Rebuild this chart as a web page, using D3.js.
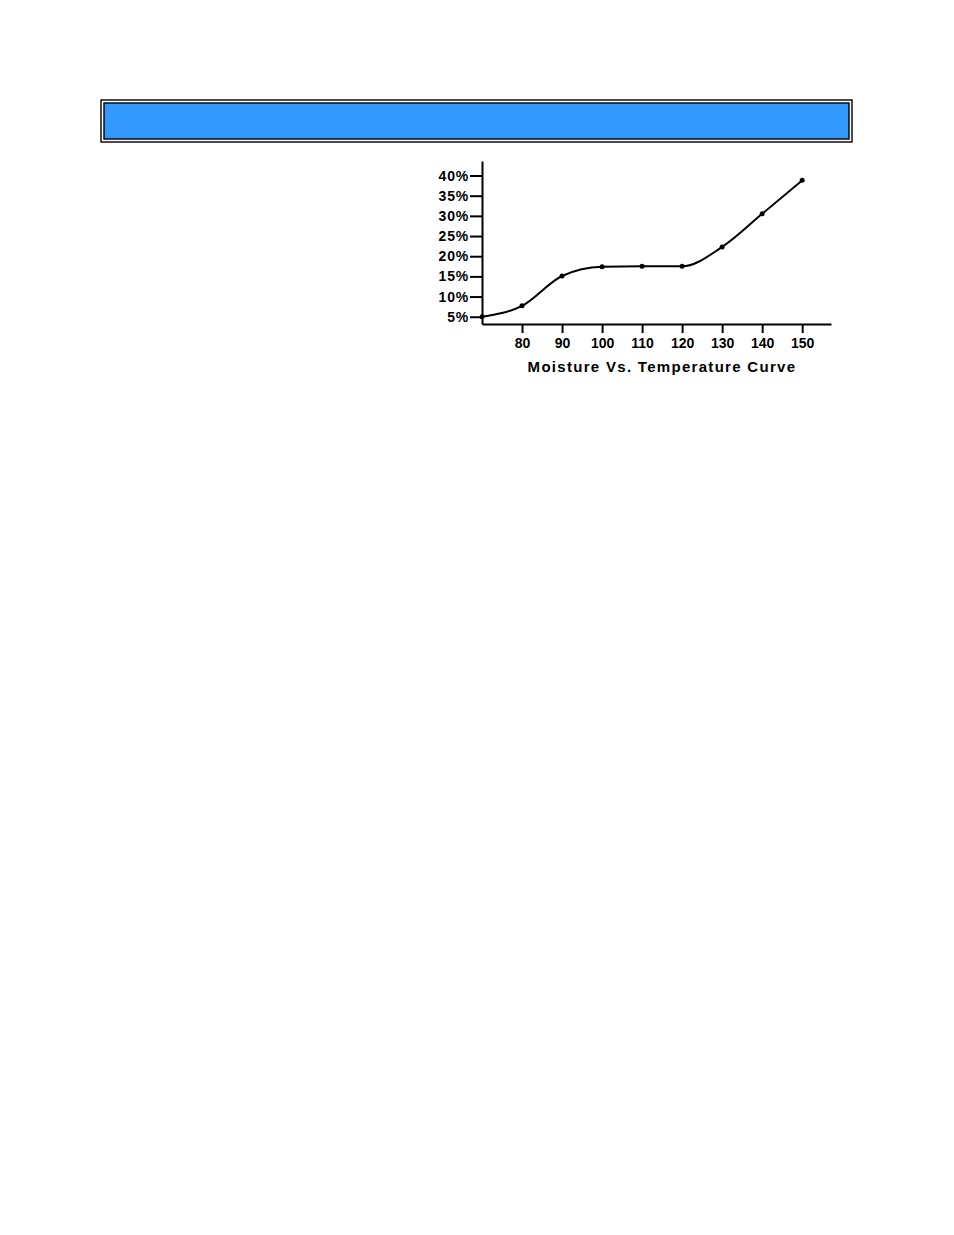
<!DOCTYPE html>
<html>
<head>
<meta charset="utf-8">
<script src="https://cdn.jsdelivr.net/npm/d3@7"></script>
<style>
  body { margin: 0; background: #fff; }
  text { font-family: "Liberation Sans", Arial, sans-serif; font-weight: bold; fill: #000; }
</style>
</head>
<body>
<div id="chart-holder"></div>
<script>
// temperature (x) and moisture % (y)
const temps = [70, 80, 90, 100, 110, 120, 130, 140, 150];
const moisture = [5, 7.7, 15.1, 17.4, 17.5, 17.5, 22.3, 30.5, 38.8];
const xTicks = [80, 90, 100, 110, 120, 130, 140, 150];
const yTicks = [5, 10, 15, 20, 25, 30, 35, 40];
const chartTitle = 'Moisture Vs. Temperature Curve';

const width = 954;
const height = 1235;

const svg = d3.select('#chart-holder')
    .append('svg')
    .attr('width', width)
    .attr('height', height);

// blue banner with double border
svg.append('rect')
    .attr('x', 101).attr('y', 100)
    .attr('width', 751).attr('height', 42)
    .attr('fill', 'none')
    .attr('stroke', '#000')
    .attr('stroke-width', 1.4);
svg.append('rect')
    .attr('x', 104).attr('y', 103)
    .attr('width', 745).attr('height', 36)
    .attr('fill', '#3399ff')
    .attr('stroke', '#000')
    .attr('stroke-width', 1.4);

// ****SCALES****
const xScale = d3.scaleLinear()
    .domain([70, 157.2])
    .range([482, 831]);
const yScale = d3.scaleLinear()
    .domain([3.2, 43.6])
    .range([324, 161]);

// ****AXES****
const xAxis = svg.append('g')
    .attr('transform', `translate(0, ${yScale(3.2)})`)
    .call(d3.axisBottom(xScale)
        .tickValues(xTicks)
        .tickSize(9)
        .tickSizeOuter(0)
        .tickPadding(5));
const yAxis = svg.append('g')
    .attr('transform', `translate(${xScale(70)}, 0)`)
    .call(d3.axisLeft(yScale)
        .tickValues(yTicks)
        .tickSize(12)
        .tickSizeOuter(0)
        .tickPadding(1)
        .tickFormat(d => d + '%'));

[xAxis, yAxis].forEach(function (ax) {
    ax.select('.domain').attr('stroke', '#000').attr('stroke-width', 2);
    ax.selectAll('.tick line').attr('stroke', '#000').attr('stroke-width', 2);
    ax.selectAll('.tick text')
        .attr('fill', '#000')
        .style('font-size', '14px')
        .style('font-family', '"Liberation Sans", Arial, sans-serif')
        .style('font-weight', 'bold');
});
yAxis.selectAll('.tick text').style('letter-spacing', '0.8px');

// ****PLOT****
const points = temps.map((t, i) => ({ t: t, m: moisture[i] }));
const line = d3.line()
    .x(d => xScale(d.t))
    .y(d => yScale(d.m))
    .curve(d3.curveMonotoneX);

svg.append('path')
    .datum(points)
    .attr('d', line)
    .attr('fill', 'none')
    .attr('stroke', '#000')
    .attr('stroke-width', 2);

svg.selectAll('circle.pt')
    .data(points)
    .enter()
    .append('circle')
    .attr('class', 'pt')
    .attr('cx', d => xScale(d.t))
    .attr('cy', d => yScale(d.m))
    .attr('r', 2.5)
    .attr('fill', '#000');

// title under x axis
svg.append('text')
    .attr('x', 662)
    .attr('y', 372)
    .attr('text-anchor', 'middle')
    .style('font-size', '15px')
    .style('letter-spacing', '1.3px')
    .text(chartTitle);
</script>
</body>
</html>
